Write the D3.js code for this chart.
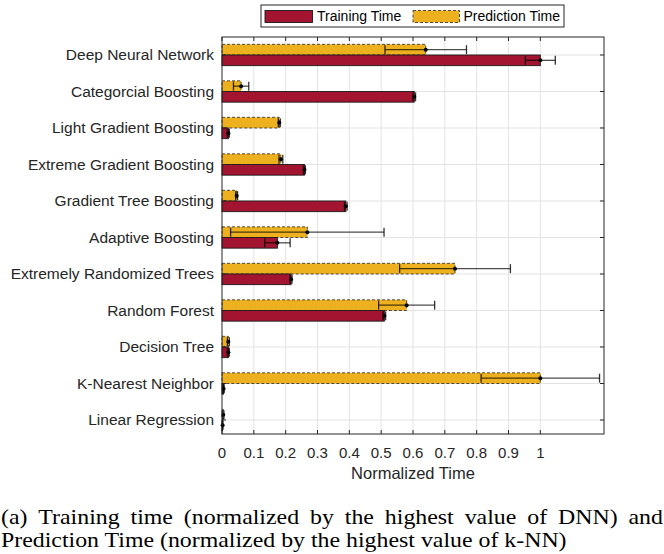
<!DOCTYPE html>
<html>
<head>
<meta charset="utf-8">
<script src="https://cdn.jsdelivr.net/npm/d3@7"></script>
<style>
  html, body { margin: 0; padding: 0; background: #fff; }
  svg { display: block; }
</style>
</head>
<body>
<svg id="chart" width="664" height="554"></svg>
<script>
// ---------------- data ----------------
const categories = [
  "Deep Neural Network",
  "Categorcial Boosting",
  "Light Gradient Boosting",
  "Extreme Gradient Boosting",
  "Gradient Tree Boosting",
  "Adaptive Boosting",
  "Extremely Randomized Trees",
  "Random Forest",
  "Decision Tree",
  "K-Nearest Neighbor",
  "Linear Regression"
];
const trainingTime = [1.0, 0.604, 0.02, 0.259, 0.389, 0.174, 0.217, 0.51, 0.02, 0.005, 0.002];
const trainingErr  = [0.047, 0.004, 0.003, 0.003, 0.004, 0.04, 0.003, 0.004, 0.003, 0.002, 0.001];
const predictionTime = [0.64, 0.06, 0.18, 0.185, 0.046, 0.268, 0.732, 0.58, 0.02, 1.0, 0.004];
const predictionErr  = [0.128, 0.024, 0.003, 0.006, 0.003, 0.241, 0.174, 0.088, 0.003, 0.186, 0.002];
const xTicks = [0, 0.1, 0.2, 0.3, 0.4, 0.5, 0.6, 0.7, 0.8, 0.9, 1];
const seriesNames = ["Training Time", "Prediction Time"];
const xLabel = "Normalized Time";
const captionLines = [
  "(a) Training time (normalized by the highest value of DNN) and",
  "Prediction Time (normalized by the highest value of k-NN)"
];

// ---------------- layout ----------------
const svg = d3.select("#chart");
const L = 222, R = 604, T = 37, B = 434;
const red = "#A2142F", yellow = "#EDB120", axisCol = "#262626";
const sans = "'Liberation Sans', Arial, Helvetica, sans-serif";

const x = d3.scaleLinear().domain([0, 1.2]).range([L, R]);
const y = d3.scaleLinear().domain([-0.493, 10.384]).range([T, B]);
const step = y(1) - y(0);
const bh = step * 0.292;

// grid
const g = svg.append("g");
g.selectAll(".vg").data(xTicks.filter(d => d > 0)).enter().append("line")
  .attr("x1", d => x(d)).attr("x2", d => x(d)).attr("y1", T).attr("y2", B)
  .attr("stroke", "#e3e3e3").attr("stroke-width", 1);
g.selectAll(".hg").data(categories).enter().append("line")
  .attr("x1", L).attr("x2", R).attr("y1", (d, i) => y(i)).attr("y2", (d, i) => y(i))
  .attr("stroke", "#e3e3e3").attr("stroke-width", 1);

// bars
const idx = d3.range(categories.length);
g.selectAll(".pbar").data(idx).enter().append("rect")
  .attr("x", x(0)).attr("y", i => y(i) - bh)
  .attr("width", i => x(predictionTime[i]) - x(0)).attr("height", bh)
  .attr("fill", yellow).attr("stroke", "#3a3a3a").attr("stroke-width", 0.9)
  .attr("stroke-dasharray", "3,2");
g.selectAll(".tbar").data(idx).enter().append("rect")
  .attr("x", x(0)).attr("y", i => y(i))
  .attr("width", i => x(trainingTime[i]) - x(0)).attr("height", bh)
  .attr("fill", red).attr("stroke", "#1a1a1a").attr("stroke-width", 0.9);

// error bars
function errBars(vals, errs, cy) {
  const eg = g.append("g");
  idx.forEach(i => {
    const yc = cy(i);
    const lo = x(vals[i] - errs[i]), hi = x(vals[i] + errs[i]);
    const ch = bh * 0.42;
    eg.append("line").attr("x1", lo).attr("x2", hi).attr("y1", yc).attr("y2", yc)
      .attr("stroke", "#000").attr("stroke-opacity", 0.7).attr("stroke-width", 1.3);
    [lo, hi].forEach(px => {
      eg.append("line").attr("x1", px).attr("x2", px).attr("y1", yc - ch).attr("y2", yc + ch)
        .attr("stroke", "#000").attr("stroke-opacity", 0.8).attr("stroke-width", 1.3);
    });
    eg.append("circle").attr("cx", x(vals[i])).attr("cy", yc).attr("r", 2).attr("fill", "#000");
  });
}
errBars(predictionTime, predictionErr, i => y(i) - bh / 2);
errBars(trainingTime, trainingErr, i => y(i) + bh / 2);

// axes box
svg.append("rect").attr("x", L).attr("y", T).attr("width", R - L).attr("height", B - T)
  .attr("fill", "none").attr("stroke", axisCol).attr("stroke-width", 1);

// x ticks (inward, top and bottom)
const tl = 4;
xTicks.forEach(d => {
  svg.append("line").attr("x1", x(d)).attr("x2", x(d)).attr("y1", B).attr("y2", B - tl)
    .attr("stroke", axisCol).attr("stroke-width", 1);
  svg.append("line").attr("x1", x(d)).attr("x2", x(d)).attr("y1", T).attr("y2", T + tl)
    .attr("stroke", axisCol).attr("stroke-width", 1);
});
// y ticks (inward, left and right)
idx.forEach(i => {
  svg.append("line").attr("x1", R).attr("x2", R - tl).attr("y1", y(i)).attr("y2", y(i))
    .attr("stroke", axisCol).attr("stroke-width", 1);
  svg.append("line").attr("x1", L).attr("x2", L + tl).attr("y1", y(i)).attr("y2", y(i))
    .attr("stroke", axisCol).attr("stroke-width", 1);
});

// x tick labels
svg.selectAll(".xtl").data(xTicks).enter().append("text")
  .attr("x", d => x(d)).attr("y", 458)
  .attr("text-anchor", "middle").attr("font-family", sans).attr("font-size", 15)
  .attr("fill", axisCol).text(d => d3.format("~g")(d));

// x label
svg.append("text").attr("x", x(0.6)).attr("y", 479).attr("text-anchor", "middle")
  .attr("font-family", sans).attr("font-size", 16.5).attr("fill", axisCol).text(xLabel);

// category labels
svg.selectAll(".ytl").data(categories).enter().append("text")
  .attr("x", 214).attr("y", (d, i) => y(i) + 5.5)
  .attr("text-anchor", "end").attr("font-family", sans).attr("font-size", 15.5)
  .attr("fill", axisCol).text(d => d);

// legend
const lg = svg.append("g");
lg.append("rect").attr("x", 261).attr("y", 5).attr("width", 303).attr("height", 22)
  .attr("fill", "#fff").attr("stroke", axisCol).attr("stroke-width", 1);
lg.append("rect").attr("x", 265).attr("y", 10.5).attr("width", 47.5).attr("height", 12)
  .attr("fill", red).attr("stroke", "#1a1a1a").attr("stroke-width", 0.9);
lg.append("text").attr("x", 317).attr("y", 21).attr("font-family", sans).attr("font-size", 14)
  .attr("fill", "#000").text(seriesNames[0]);
lg.append("rect").attr("x", 413).attr("y", 10.5).attr("width", 46.5).attr("height", 12)
  .attr("fill", yellow).attr("stroke", "#3a3a3a").attr("stroke-width", 0.9)
  .attr("stroke-dasharray", "3,2");
lg.append("text").attr("x", 463.5).attr("y", 21).attr("font-family", sans).attr("font-size", 14)
  .attr("fill", "#000").text(seriesNames[1]);

// caption: serif 20px, horizontally stretched to mimic the wider book face
const serif = "'Liberation Serif', 'Times New Roman', serif";
const capSize = 20;
const probe = svg.append("text").attr("font-family", serif).attr("font-size", capSize)
  .text(captionLines[1]);
const w2 = probe.node().getComputedTextLength();
probe.remove();
const sx = 566 / w2;
const words = captionLines[0].split(" ");
const widths = words.map(wd => {
  const t = svg.append("text").attr("font-family", serif).attr("font-size", capSize).text(wd);
  const w = t.node().getComputedTextLength();
  t.remove();
  return w;
});
const avail = (663 - 1) / sx;
const gap = (avail - d3.sum(widths)) / (words.length - 1);
const capG = svg.append("g").attr("transform", `translate(1,0) scale(${sx},1)`);
const line1 = capG.append("text").attr("font-family", serif).attr("font-size", capSize).attr("fill", "#000");
let cx = 0;
words.forEach((wd, i) => {
  line1.append("tspan").attr("x", cx).attr("y", 524).text(wd);
  cx += widths[i] + gap;
});
capG.append("text").attr("font-family", serif).attr("font-size", capSize).attr("fill", "#000")
  .attr("x", 0).attr("y", 547).text(captionLines[1]);
</script>
</body>
</html>
